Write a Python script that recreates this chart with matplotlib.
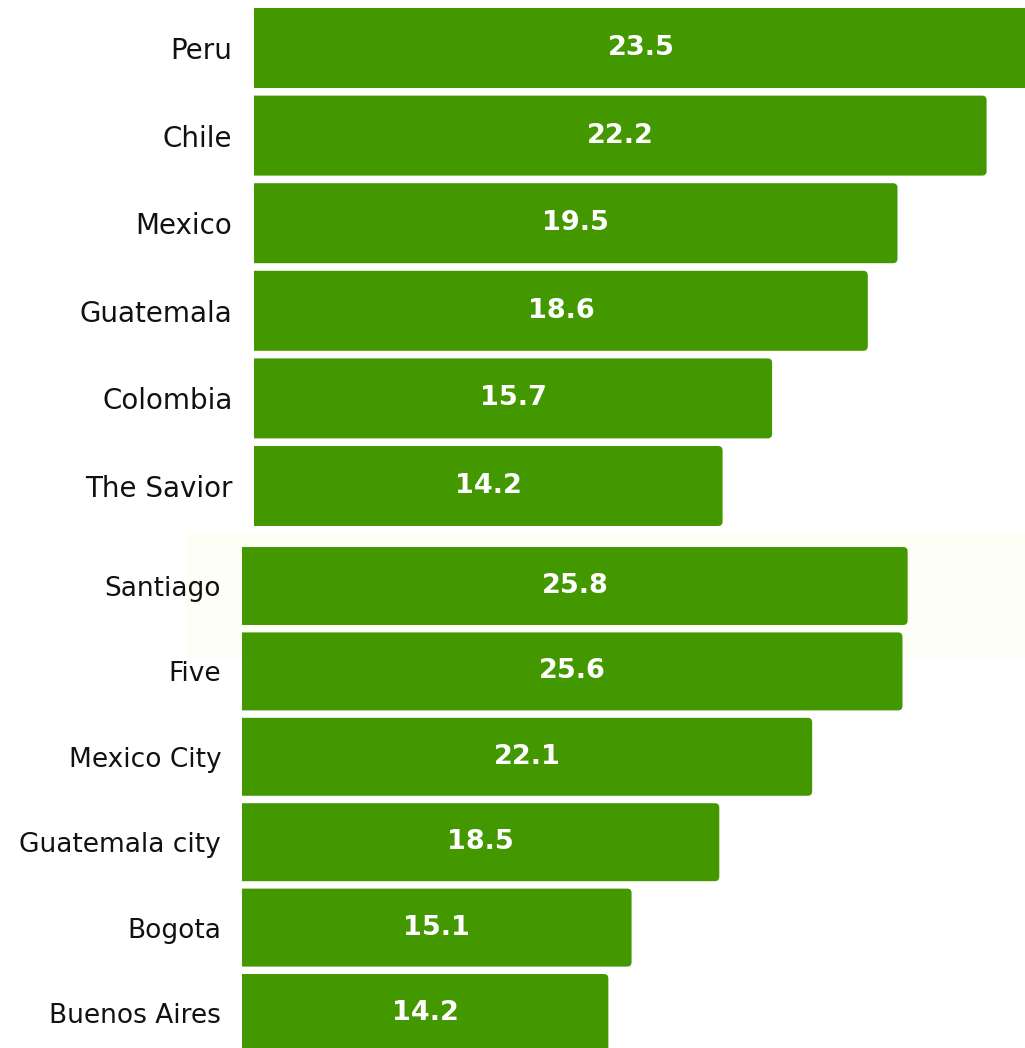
import matplotlib.pyplot as plt
from matplotlib.patches import FancyBboxPatch, Rectangle

# data
countries = ["Peru", "Chile", "Mexico", "Guatemala", "Colombia", "The Savior"]
country_vals = [23.5, 22.2, 19.5, 18.6, 15.7, 14.2]
cities = ["Santiago", "Five", "Mexico City", "Guatemala city", "Bogota", "Buenos Aires"]
city_vals = [25.8, 25.6, 22.1, 18.5, 15.1, 14.2]

green = "#439800"
plt.rcParams["font.family"] = ["DejaVu Sans"]

W, H = 1025, 1048
fig = plt.figure(figsize=(W / 100, H / 100), dpi=100)

# faint highlight band behind the first city row
band = Rectangle((187 / W, 1 - 657 / H), (W - 187) / W, 124 / H,
                 transform=fig.transFigure, color="#fdfef5", zorder=-5)
fig.add_artist(band)


def panel(rect, labels, vals, xmax, fs_lab, pad):
    ax = fig.add_axes(rect)
    ax.patch.set_alpha(0)
    n = len(vals)
    bars = ax.barh(range(n), vals, height=0.913, color=green)
    ax.set_xlim(0, xmax)
    ax.set_ylim(n - 0.5, -0.5)
    # px per data unit, for round corners
    fw, fh = fig.get_size_inches() * fig.dpi
    px_x = rect[2] * fw / xmax
    px_y = rect[3] * fh / n
    r = 4.5 / px_x
    for b in bars:
        x, y, w, h = b.get_x(), b.get_y(), b.get_width(), b.get_height()
        b.remove()
        fb = FancyBboxPatch((x - 2 * r, y), w + 2 * r, h,
                            boxstyle=f"round,pad=0,rounding_size={r}",
                            mutation_aspect=px_x / px_y,
                            fc=green, ec="none")
        ax.add_patch(fb)
    for i, v in enumerate(vals):
        ax.text(v / 2, i, f"{v}", color="white", fontsize=19.5, fontweight="bold",
                ha="center", va="center")
    ax.set_yticks(range(n))
    ax.set_yticklabels(labels, fontsize=fs_lab, color="#111111")
    ax.tick_params(axis="y", length=0, pad=pad)
    ax.set_xticks([])
    for s in ax.spines.values():
        s.set_visible(False)
    return ax


# top panel: countries
panel([254 / W, 1 - 529.8 / H, (W - 254) / W, 525.6 / H],
      countries, country_vals, (W - 254) / 33.0, 20, 15.5)

# bottom panel: cities
panel([242 / W, 1 - 1055.7 / H, (W - 242) / W, 512.4 / H],
      cities, city_vals, (W - 242) / 25.8, 19, 15)

fig.savefig("out.png", dpi=100)
